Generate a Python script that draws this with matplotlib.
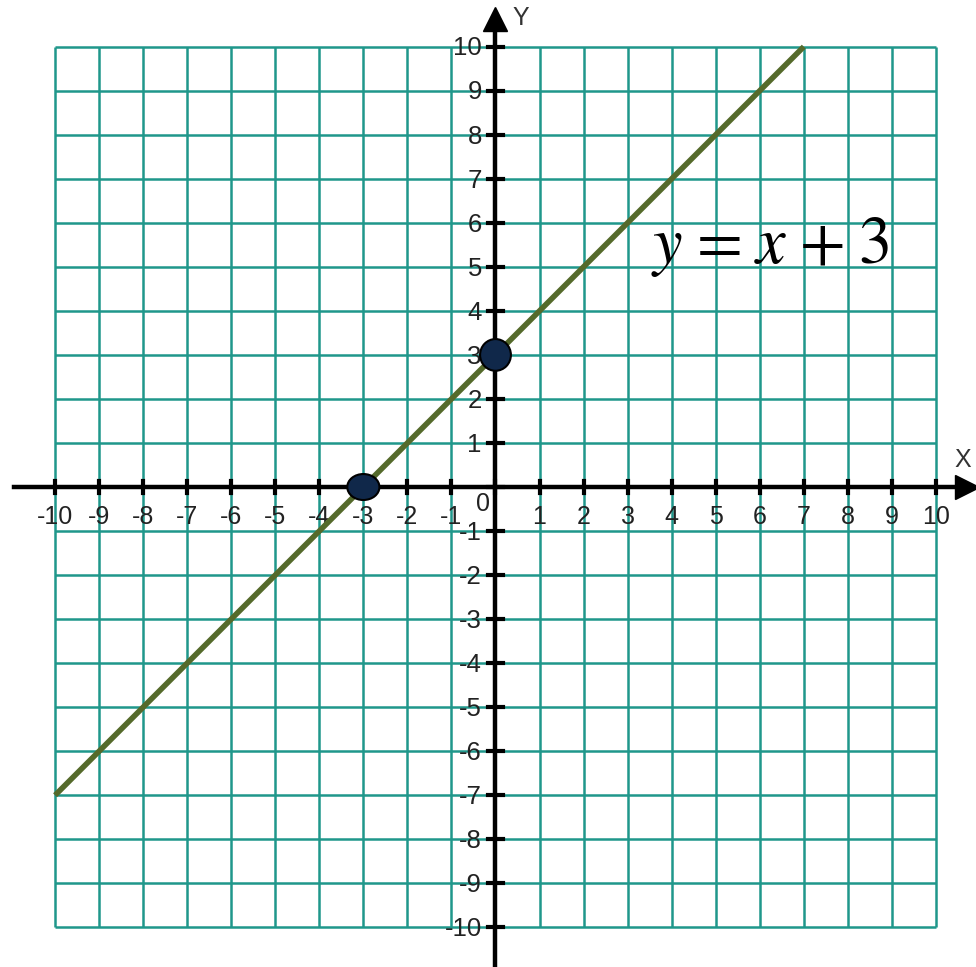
import matplotlib
matplotlib.use("Agg")
import matplotlib.pyplot as plt
from matplotlib.patches import Ellipse

# chart data
ticks = list(range(-10, 11))
line_x = [-10, 7]
line_y = [-7, 10]
point_x = [0, -3]
point_y = [3, 0]
equation = r"$y\hspace{0.09}=\hspace{0.09}x\hspace{0.09}+\hspace{0.09}3$"

GRID = "#1f978b"
LINE = "#556a2b"
DOT = "#10284a"
LABEL_FONT = ["Liberation Sans Narrow", "Liberation Sans", "DejaVu Sans"]

fig = plt.figure(figsize=(9.76, 9.67), dpi=100)
ax = fig.add_axes([0, 0, 1, 1])
ax.set_xlim(-11.25, 10.91)
ax.set_ylim(-10.90, 11.06)
ax.axis("off")

# grid
ax.vlines(ticks, -10, 10, color=GRID, lw=1.8, zorder=1)
ax.hlines(ticks, -10, 10, color=GRID, lw=1.8, zorder=1)

# axes with arrows
ax.plot([-10.93, 10.6], [0, 0], color="black", lw=3.2, zorder=3)
ax.plot([0, 0], [-10.95, 10.55], color="black", lw=3.2, zorder=3)
ax.plot([10.7], [0], marker=">", ms=17, color="black", zorder=3)
ax.plot([0], [10.62], marker="^", ms=17, color="black", zorder=3)

# tick marks
for t in ticks:
    ax.plot([t, t], [-0.13, 0.13], color="black", lw=3, zorder=3)
    ax.plot([-0.16, 0.16], [t, t], color="black", lw=3, zorder=3)

# tick labels
for t in ticks:
    if t == 0:
        continue
    ax.text(t, -0.40, str(t), ha="center", va="top", fontsize=18,
            family=LABEL_FONT, color="#222222", zorder=4)
    ax.text(-0.31, t - 0.04, str(t), ha="right", va="center", fontsize=18.5,
            family=LABEL_FONT, color="#222222", zorder=4)
ax.text(-0.28, -0.39, "0", ha="center", va="center", fontsize=18,
        family=LABEL_FONT, color="#222222", zorder=4)
ax.text(10.6, 0.62, "X", ha="center", va="center", fontsize=18,
        family=LABEL_FONT, color="#333333")
ax.text(0.58, 10.66, "Y", ha="center", va="center", fontsize=18,
        family=LABEL_FONT, color="#333333")

# the line
ax.plot(line_x, line_y, color=LINE, lw=4.0, solid_capstyle="butt", zorder=5)

# intercept points
sizes = [(0.70, 0.72), (0.73, 0.59)]
for px, py, (w, h) in zip(point_x, point_y, sizes):
    ax.add_patch(Ellipse((px, py), w, h, facecolor=DOT, edgecolor="black",
                         lw=1.5, zorder=6))

plt.rcParams["mathtext.fontset"] = "stix"
ax.text(3.52, 5.08, equation, ha="left", va="baseline", fontsize=48,
        color="black", zorder=7)

fig.savefig("out.png", dpi=100, facecolor="white")
